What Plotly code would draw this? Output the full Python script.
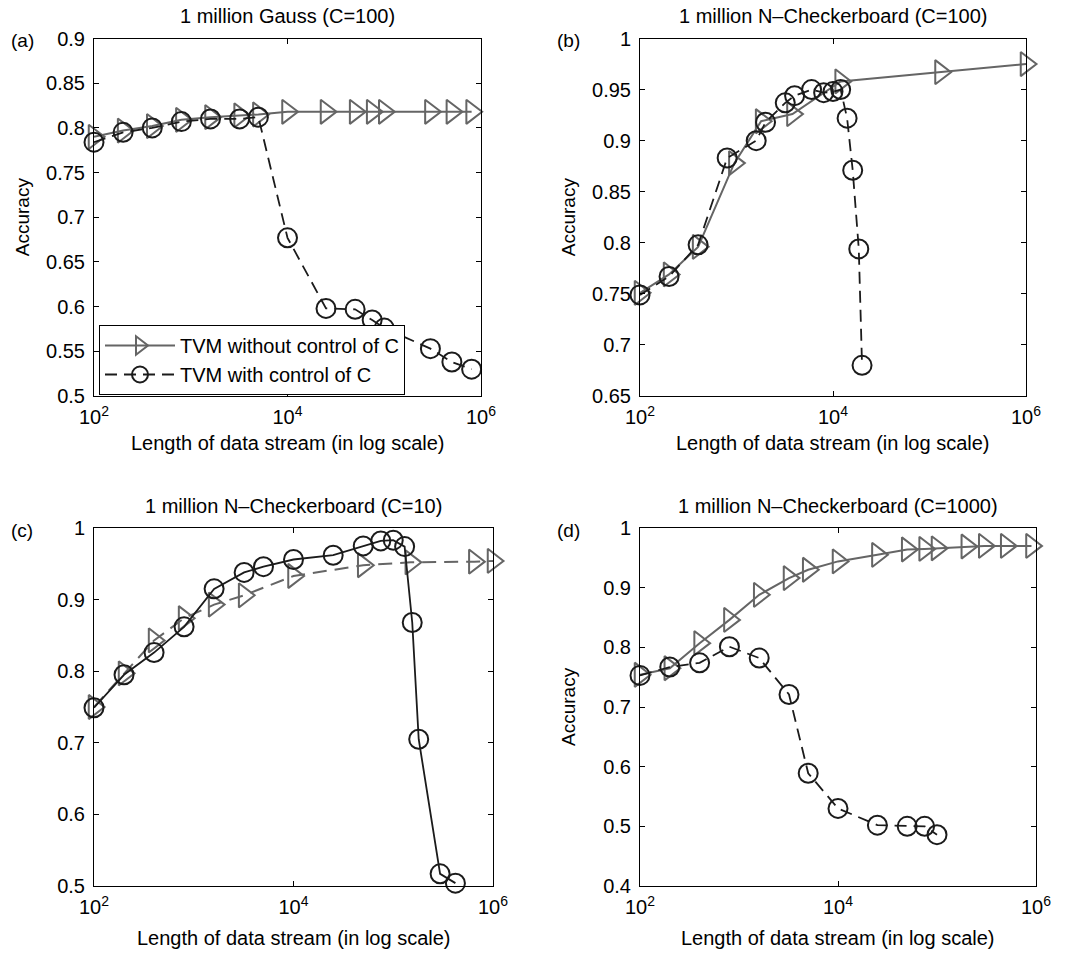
import plotly.graph_objects as go

# ---- data: stream length (x) and accuracy (y) ----
# (a) 1 million Gauss, C=100
a_tri_x = [100, 200, 400, 800, 1600, 3200, 5000, 10000, 25000, 50000, 75000, 100000, 300000, 500000, 800000]
a_tri_y = [0.790, 0.797, 0.802, 0.809, 0.812, 0.814, 0.815, 0.818, 0.818, 0.818, 0.818, 0.818, 0.818, 0.818, 0.818]
a_cir_x = [100, 200, 400, 800, 1600, 3200, 5000, 10000, 25000, 50000, 75000, 100000, 300000, 500000, 800000]
a_cir_y = [0.784, 0.795, 0.800, 0.807, 0.810, 0.810, 0.812, 0.677, 0.598, 0.597, 0.585, 0.576, 0.553, 0.538, 0.530]

# (b) 1 million N-Checkerboard, C=100
b_tri_x = [100, 200, 400, 950, 1800, 3800, 12000, 130000, 1000000]
b_tri_y = [0.751, 0.769, 0.796, 0.878, 0.919, 0.926, 0.958, 0.967, 0.975]
b_cir_x = [100, 200, 400, 800, 1600, 2000, 3200, 4000, 6000, 8000, 10000, 12000, 14000, 16000, 18500, 20000]
b_cir_y = [0.749, 0.767, 0.798, 0.883, 0.900, 0.918, 0.937, 0.944, 0.950, 0.947, 0.948, 0.950, 0.922, 0.871, 0.794, 0.680]

# (c) 1 million N-Checkerboard, C=10
c_tri_x = [100, 200, 400, 800, 1600, 3200, 10000, 50000, 150000, 650000, 1000000]
c_tri_y = [0.750, 0.797, 0.843, 0.874, 0.893, 0.906, 0.933, 0.948, 0.952, 0.953, 0.954]
c_cir_x = [100, 200, 400, 800, 1600, 3200, 5000, 10000, 25000, 50000, 75000, 100000, 130000, 155000, 180000, 295000, 420000]
c_cir_y = [0.749, 0.795, 0.826, 0.862, 0.915, 0.938, 0.946, 0.956, 0.962, 0.975, 0.982, 0.983, 0.974, 0.868, 0.705, 0.517, 0.504]

# (d) 1 million N-Checkerboard, C=1000
d_tri_x = [100, 200, 400, 800, 1600, 3200, 5000, 10000, 25000, 50000, 75000, 100000, 200000, 300000, 500000, 900000]
d_tri_y = [0.754, 0.765, 0.807, 0.846, 0.888, 0.916, 0.930, 0.944, 0.955, 0.964, 0.965, 0.966, 0.969, 0.970, 0.970, 0.970]
d_cir_x = [100, 200, 400, 800, 1600, 3200, 5000, 10000, 25000, 50000, 75000, 100000]
d_cir_y = [0.753, 0.767, 0.774, 0.801, 0.782, 0.721, 0.589, 0.530, 0.502, 0.500, 0.500, 0.486]

# ---- labels ----
titles = ["1 million Gauss (C=100)", "1 million N\u2013Checkerboard (C=100)",
          "1 million N\u2013Checkerboard (C=10)", "1 million N\u2013Checkerboard (C=1000)"]
panel_tags = ["(a)", "(b)", "(c)", "(d)"]
series_names = ["TVM without control of C", "TVM with control of C"]
x_title = "Length of data stream (in log scale)"
y_title = "Accuracy"
x_tick_vals = [100, 10000, 1000000]
x_tick_text = ["10<sup>2</sup>", "10<sup>4</sup>", "10<sup>6</sup>"]
y_ticks = [
    [0.5, 0.55, 0.6, 0.65, 0.7, 0.75, 0.8, 0.85, 0.9],
    [0.65, 0.7, 0.75, 0.8, 0.85, 0.9, 0.95, 1.0],
    [0.5, 0.6, 0.7, 0.8, 0.9, 1.0],
    [0.4, 0.5, 0.6, 0.7, 0.8, 0.9, 1.0],
]

W, H = 1069, 954
FONT = "Liberation Sans, Arial, Helvetica, sans-serif"
GRAY = "#656565"
BLACK = "#1b1b1b"

# plot-area boxes in pixels: left, right, top, bottom
boxes = [(94, 481, 38.5, 396), (640, 1026, 38.5, 396),
         (94, 493, 528, 886), (640, 1036, 528, 886)]
# vertical offset of the x-axis title below each box
xtitle_gap = [47, 47, 52, 52]

series = [
    (a_tri_x, a_tri_y, a_cir_x, a_cir_y, "solid", "12px,7px"),
    (b_tri_x, b_tri_y, b_cir_x, b_cir_y, "solid", "12px,7px"),
    (c_tri_x, c_tri_y, c_cir_x, c_cir_y, "14px,8px", "solid"),
    (d_tri_x, d_tri_y, d_cir_x, d_cir_y, "solid", "12px,7px"),
]

fig = go.Figure()
layout = {}
annotations = []


def label(text, px, py, size=20, angle=0):
    return dict(text=text, x=px / W, y=1 - py / H, xref="paper", yref="paper",
                xanchor="center", yanchor="middle", showarrow=False, textangle=angle,
                font=dict(family=FONT, size=size, color="black"))


for i, (box, (tx, ty, cx, cy, tdash, cdash)) in enumerate(zip(boxes, series)):
    n = "" if i == 0 else str(i + 1)
    xa, ya = "x" + n, "y" + n
    l, r, t, b = box
    yt = y_ticks[i]

    fig.add_trace(go.Scatter(
        x=tx, y=ty, xaxis=xa, yaxis=ya, mode="lines+markers",
        name=series_names[0], showlegend=(i == 0), cliponaxis=False,
        line=dict(color=GRAY, width=2, dash=tdash),
        marker=dict(symbol="triangle-right-open", size=21, color=GRAY,
                    line=dict(width=2, color=GRAY)),
    ))
    fig.add_trace(go.Scatter(
        x=cx, y=cy, xaxis=xa, yaxis=ya, mode="lines+markers",
        name=series_names[1], showlegend=(i == 0), cliponaxis=False,
        line=dict(color=BLACK, width=1.8, dash=cdash),
        marker=dict(symbol="circle-open", size=19, color=BLACK,
                    line=dict(width=2, color=BLACK)),
    ))

    common = dict(showline=True, linecolor="black", linewidth=1, mirror="ticks",
                  ticks="inside", ticklen=5, tickcolor="black", tickwidth=1,
                  showgrid=False, zeroline=False, automargin=False,
                  tickfont=dict(family=FONT, size=20, color="black"))
    layout["xaxis" + n] = dict(
        common, type="log", range=[2, 6], domain=[l / W, r / W], anchor=ya,
        tickvals=x_tick_vals, ticktext=x_tick_text, ticklabelstandoff=3)
    layout["yaxis" + n] = dict(
        common, range=[yt[0], yt[-1]], domain=[1 - b / H, 1 - t / H], anchor=xa,
        tickvals=yt, ticktext=[f"{v:g}" for v in yt], ticklabelstandoff=4)

    mid_x = (l + r) / 2
    annotations.append(label(titles[i], mid_x, t - 22.5))
    annotations.append(label(x_title, mid_x, b + xtitle_gap[i]))
    annotations.append(label(panel_tags[i], l - 72, t + 2, size=19))
    if i != 2:
        annotations.append(label(y_title, l - 72, (t + b) / 2, size=19, angle=-90))

fig.update_layout(
    width=W, height=H, margin=dict(l=0, r=0, t=0, b=0, autoexpand=False),
    paper_bgcolor="white", plot_bgcolor="white",
    font=dict(family=FONT, size=20, color="black"),
    annotations=annotations,
    legend=dict(x=99 / W, y=1 - 325 / H, xanchor="left", yanchor="top",
                bgcolor="white", bordercolor="black", borderwidth=1,
                font=dict(family=FONT, size=20, color="black"),
                itemwidth=70, tracegroupgap=0),
    **layout,
)

fig.write_html("out.html")
